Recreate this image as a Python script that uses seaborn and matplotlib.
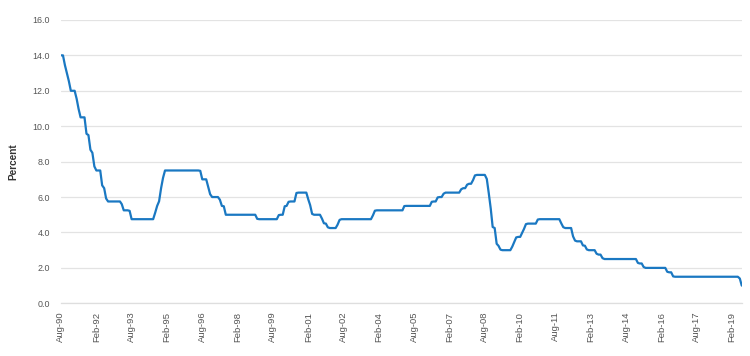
import matplotlib
matplotlib.use("Agg")
import matplotlib.pyplot as plt
import numpy as np
import pandas as pd
import seaborn as sns

# monthly cash rate, percent (first month Aug-90)
start_month = "1990-08"
rate_1990 = [14.0, 14.0, 13.45, 13.0, 12.55]
rate_1991 = [12.0, 12.0, 12.0, 11.55, 10.98, 10.5, 10.5, 10.5, 9.57, 9.5, 8.67, 8.5]
rate_1992 = [7.73, 7.5, 7.5, 7.5, 6.66, 6.5, 5.92, 5.75, 5.75, 5.75, 5.75, 5.75]
rate_1993 = [5.75, 5.75, 5.6, 5.25, 5.25, 5.25, 5.22, 4.75, 4.75, 4.75, 4.75, 4.75]
rate_1994 = [4.75, 4.75, 4.75, 4.75, 4.75, 4.75, 4.75, 5.11, 5.5, 5.76, 6.5, 7.08]
rate_1995 = [7.5, 7.5, 7.5, 7.5, 7.5, 7.5, 7.5, 7.5, 7.5, 7.5, 7.5, 7.5]
rate_1996 = [7.5, 7.5, 7.5, 7.5, 7.5, 7.5, 7.48, 7.0, 7.0, 7.0, 6.58, 6.16]
rate_1997 = [6.0, 6.0, 6.0, 6.0, 5.85, 5.5, 5.48, 5.0, 5.0, 5.0, 5.0, 5.0]
rate_1998 = [5.0, 5.0, 5.0, 5.0, 5.0, 5.0, 5.0, 5.0, 5.0, 5.0, 5.0, 4.77]
rate_1999 = [4.75, 4.75, 4.75, 4.75, 4.75, 4.75, 4.75, 4.75, 4.75, 4.75, 4.98, 5.0]
rate_2000 = [5.0, 5.48, 5.5, 5.73, 5.75, 5.75, 5.75, 6.23, 6.25, 6.25, 6.25, 6.25]
rate_2001 = [6.25, 5.86, 5.55, 5.05, 5.0, 5.0, 5.0, 5.0, 4.78, 4.52, 4.5, 4.29]
rate_2002 = [4.25, 4.25, 4.25, 4.25, 4.44, 4.71, 4.75, 4.75, 4.75, 4.75, 4.75, 4.75]
rate_2003 = [4.75, 4.75, 4.75, 4.75, 4.75, 4.75, 4.75, 4.75, 4.75, 4.75, 4.97, 5.23]
rate_2004 = [5.25, 5.25, 5.25, 5.25, 5.25, 5.25, 5.25, 5.25, 5.25, 5.25, 5.25, 5.25]
rate_2005 = [5.25, 5.25, 5.49, 5.5, 5.5, 5.5, 5.5, 5.5, 5.5, 5.5, 5.5, 5.5]
rate_2006 = [5.5, 5.5, 5.5, 5.5, 5.73, 5.75, 5.75, 5.98, 6.0, 6.0, 6.19, 6.25]
rate_2007 = [6.25, 6.25, 6.25, 6.25, 6.25, 6.25, 6.25, 6.44, 6.5, 6.5, 6.7, 6.75]
rate_2008 = [6.75, 6.96, 7.22, 7.25, 7.25, 7.25, 7.25, 7.25, 7.02, 6.23, 5.35, 4.31]
rate_2009 = [4.25, 3.36, 3.25, 3.03, 3.0, 3.0, 3.0, 3.0, 3.0, 3.2, 3.47, 3.72]
rate_2010 = [3.75, 3.75, 3.97, 4.2, 4.47, 4.5, 4.5, 4.5, 4.5, 4.5, 4.73, 4.75]
rate_2011 = [4.75, 4.75, 4.75, 4.75, 4.75, 4.75, 4.75, 4.75, 4.75, 4.75, 4.51, 4.3]
rate_2012 = [4.25, 4.25, 4.25, 4.25, 3.78, 3.54, 3.5, 3.5, 3.5, 3.27, 3.25, 3.04]
rate_2013 = [3.0, 3.0, 3.0, 3.0, 2.8, 2.75, 2.75, 2.55, 2.5, 2.5, 2.5, 2.5]
rate_2014 = [2.5, 2.5, 2.5, 2.5, 2.5, 2.5, 2.5, 2.5, 2.5, 2.5, 2.5, 2.5]
rate_2015 = [2.5, 2.28, 2.25, 2.25, 2.05, 2.0, 2.0, 2.0, 2.0, 2.0, 2.0, 2.0]
rate_2016 = [2.0, 2.0, 2.0, 2.0, 1.78, 1.75, 1.75, 1.52, 1.5, 1.5, 1.5, 1.5]
rate_2017 = [1.5, 1.5, 1.5, 1.5, 1.5, 1.5, 1.5, 1.5, 1.5, 1.5, 1.5, 1.5]
rate_2018 = [1.5, 1.5, 1.5, 1.5, 1.5, 1.5, 1.5, 1.5, 1.5, 1.5, 1.5, 1.5]
rate_2019 = [1.5, 1.5, 1.5, 1.5, 1.5, 1.4, 1.0]

x_tick_labels = ["Aug-90", "Feb-92", "Aug-93", "Feb-95", "Aug-96", "Feb-98", "Aug-99",
                 "Feb-01", "Aug-02", "Feb-04", "Aug-05", "Feb-07", "Aug-08", "Feb-10",
                 "Aug-11", "Feb-13", "Aug-14", "Feb-16", "Aug-17", "Feb-19"]
y_ticks = [0, 2, 4, 6, 8, 10, 12, 14, 16]

rates = (rate_1990 + rate_1991 + rate_1992 + rate_1993 + rate_1994 + rate_1995 + rate_1996
         + rate_1997 + rate_1998 + rate_1999 + rate_2000 + rate_2001 + rate_2002 + rate_2003
         + rate_2004 + rate_2005 + rate_2006 + rate_2007 + rate_2008 + rate_2009 + rate_2010
         + rate_2011 + rate_2012 + rate_2013 + rate_2014 + rate_2015 + rate_2016 + rate_2017
         + rate_2018 + rate_2019)
months = pd.date_range(start_month, periods=len(rates), freq="MS")
df = pd.DataFrame({"month": months, "rate": rates})

sns.set_style("white")
plt.rcParams["font.family"] = ["Liberation Sans", "DejaVu Sans"]

fig = plt.figure(figsize=(7.5, 3.56), dpi=100)
ax = fig.add_axes([0.0813, 0.148, 0.9077, 0.796])

sns.lineplot(data=df, x="month", y="rate", color="#1a78c2", linewidth=1.6, ax=ax)

ax.set_xlim(months[0], months[-1])
ax.set_ylim(0, 16)
ax.set_yticks(y_ticks)
ax.set_yticklabels([f"{v:.1f}" for v in y_ticks])
tick_dates = pd.to_datetime(x_tick_labels, format="%b-%y")
ax.set_xticks(tick_dates)
ax.set_xticklabels(x_tick_labels, rotation=90)

# grid and axis lines
ax.yaxis.grid(True, color="#e3e3e3", linewidth=0.9)
ax.xaxis.grid(False)
ax.set_axisbelow(True)
for side in ["top", "right", "left"]:
    ax.spines[side].set_visible(False)
ax.spines["bottom"].set_color("#dedede")
ax.spines["bottom"].set_linewidth(0.9)

ax.tick_params(axis="x", length=4, width=0.8, color="#d0d0d0", pad=2,
               labelsize=6.8, labelcolor="#555555")
ax.tick_params(axis="y", length=0, pad=8, labelsize=6.4, labelcolor="#555555")

ax.set_xlabel("")
ax.set_ylabel("Percent", fontsize=7.2, fontweight="bold", color="#333333")
ax.yaxis.set_label_coords(-0.062, 0.5)

fig.savefig("out.png", dpi=100)
plt.close(fig)
